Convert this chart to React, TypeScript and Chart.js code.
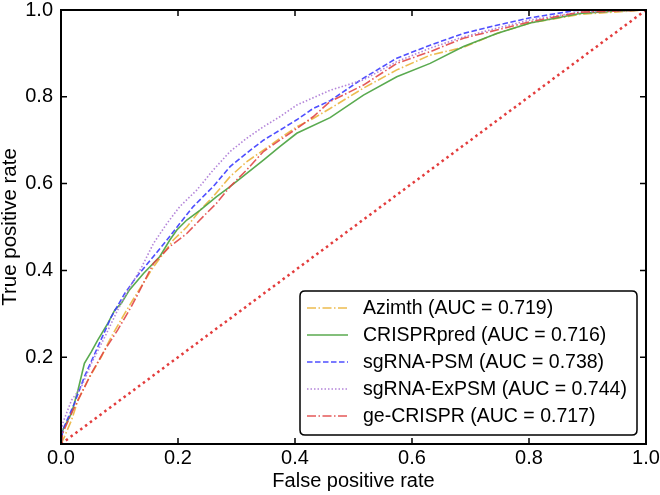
import React, { useEffect, useRef } from 'react';
import { Chart, registerables } from 'chart.js';

Chart.register(...registerables);

const FONT = "'Liberation Sans', Arial, sans-serif";

const xTickLabels = ['0.0', '0.2', '0.4', '0.6', '0.8', '1.0'];
const yTickLabels = ['', '0.2', '0.4', '0.6', '0.8', '1.0'];
const xAxisTitle = 'False positive rate';
const yAxisTitle = 'True positive rate';

const seriesNames = ['Azimth', 'CRISPRpred', 'sgRNA-PSM', 'sgRNA-ExPSM', 'ge-CRISPR'];
const aucValues = ['0.719', '0.716', '0.738', '0.744', '0.717'];

const azimthFpr = [0, 0.006, 0.018, 0.029, 0.046, 0.069, 0.086, 0.109, 0.126, 0.158, 0.192, 0.215, 0.238, 0.26, 0.289, 0.317, 0.346, 0.374, 0.403, 0.431, 0.46, 0.517, 0.574, 0.631, 0.688, 0.745, 0.802, 0.887, 1];
const azimthTpr = [0, 0.017, 0.055, 0.101, 0.147, 0.201, 0.247, 0.301, 0.339, 0.408, 0.47, 0.5, 0.539, 0.57, 0.616, 0.65, 0.677, 0.704, 0.731, 0.75, 0.773, 0.82, 0.862, 0.896, 0.914, 0.946, 0.97, 0.99, 1];

const crisprpredFpr = [0, 0.003, 0.018, 0.029, 0.04, 0.052, 0.063, 0.08, 0.092, 0.103, 0.117, 0.141, 0.169, 0.186, 0.198, 0.215, 0.238, 0.266, 0.289, 0.346, 0.374, 0.403, 0.46, 0.517, 0.574, 0.631, 0.688, 0.745, 0.802, 0.887, 0.95, 1];
const crisprpredTpr = [0, 0.032, 0.071, 0.124, 0.186, 0.213, 0.24, 0.278, 0.309, 0.324, 0.355, 0.393, 0.432, 0.47, 0.493, 0.516, 0.539, 0.57, 0.593, 0.654, 0.685, 0.716, 0.752, 0.804, 0.846, 0.877, 0.916, 0.946, 0.97, 0.992, 0.998, 1];

const psmFpr = [0, 0.003, 0.023, 0.04, 0.063, 0.086, 0.109, 0.129, 0.158, 0.181, 0.203, 0.226, 0.26, 0.289, 0.317, 0.346, 0.374, 0.403, 0.431, 0.46, 0.517, 0.574, 0.631, 0.688, 0.745, 0.802, 0.88, 1];
const psmTpr = [0, 0.032, 0.094, 0.155, 0.224, 0.293, 0.347, 0.385, 0.432, 0.47, 0.508, 0.547, 0.593, 0.639, 0.67, 0.7, 0.723, 0.747, 0.773, 0.791, 0.843, 0.889, 0.919, 0.946, 0.965, 0.982, 0.999, 1];

const expsmFpr = [0, 0.003, 0.018, 0.035, 0.052, 0.075, 0.097, 0.115, 0.138, 0.158, 0.181, 0.203, 0.232, 0.26, 0.289, 0.317, 0.346, 0.374, 0.403, 0.46, 0.517, 0.574, 0.631, 0.688, 0.745, 0.802, 0.887, 1];
const expsmTpr = [0, 0.048, 0.101, 0.132, 0.186, 0.247, 0.309, 0.355, 0.408, 0.462, 0.508, 0.547, 0.585, 0.631, 0.674, 0.704, 0.731, 0.754, 0.781, 0.815, 0.839, 0.881, 0.912, 0.938, 0.958, 0.977, 0.995, 1];

const geFpr = [0, 0.003, 0.018, 0.035, 0.052, 0.075, 0.097, 0.12, 0.129, 0.158, 0.186, 0.215, 0.243, 0.266, 0.289, 0.317, 0.346, 0.374, 0.403, 0.431, 0.46, 0.517, 0.574, 0.631, 0.688, 0.745, 0.802, 0.887, 1];
const geTpr = [0, 0.025, 0.071, 0.117, 0.163, 0.217, 0.263, 0.316, 0.339, 0.416, 0.455, 0.485, 0.524, 0.555, 0.593, 0.631, 0.674, 0.7, 0.727, 0.754, 0.789, 0.827, 0.877, 0.904, 0.935, 0.954, 0.973, 0.995, 1];

const chanceFpr = [0, 1];
const chanceTpr = [0, 1];

const seriesFpr = [azimthFpr, crisprpredFpr, psmFpr, expsmFpr, geFpr];
const seriesTpr = [azimthTpr, crisprpredTpr, psmTpr, expsmTpr, geTpr];
const seriesColors = ['rgba(235,180,60,0.9)', 'rgba(80,165,70,0.95)', 'rgba(60,60,255,0.9)', 'rgba(175,125,215,0.95)', 'rgba(225,70,70,0.9)'];
const seriesDash = [[9, 2.5, 1.5, 2.5], [], [5.5, 2.5], [1.5, 2], [9, 2.5, 1.5, 2.5]];

const toPoints = (xs: number[], ys: number[]) => xs.map((x, i) => ({ x, y: ys[i] }));

const framePlugin = {
  id: 'frameAndLegend',
  afterDatasetsDraw(chart: any) {
    const { ctx, chartArea } = chart;
    const xs = chart.scales.x;
    const ys = chart.scales.y;
    ctx.save();
    ctx.strokeStyle = '#000';
    ctx.lineWidth = 1.5;
    const tl = 6;
    xs.ticks.forEach((t: any) => {
      const px = xs.getPixelForValue(t.value);
      ctx.beginPath();
      ctx.moveTo(px, chartArea.bottom);
      ctx.lineTo(px, chartArea.bottom - tl);
      ctx.moveTo(px, chartArea.top);
      ctx.lineTo(px, chartArea.top + tl);
      ctx.stroke();
    });
    ys.ticks.forEach((t: any) => {
      const py = ys.getPixelForValue(t.value);
      ctx.beginPath();
      ctx.moveTo(chartArea.left, py);
      ctx.lineTo(chartArea.left + tl, py);
      ctx.moveTo(chartArea.right, py);
      ctx.lineTo(chartArea.right - tl, py);
      ctx.stroke();
    });
    ctx.lineWidth = 2;
    ctx.strokeRect(chartArea.left, chartArea.top, chartArea.right - chartArea.left, chartArea.bottom - chartArea.top);

    // legend
    const bw = 337;
    const bh = 144;
    const bx = chartArea.right - 9 - bw;
    const by = chartArea.bottom - 9 - bh;
    const r = 5;
    ctx.beginPath();
    ctx.moveTo(bx + r, by);
    ctx.lineTo(bx + bw - r, by);
    ctx.quadraticCurveTo(bx + bw, by, bx + bw, by + r);
    ctx.lineTo(bx + bw, by + bh - r);
    ctx.quadraticCurveTo(bx + bw, by + bh, bx + bw - r, by + bh);
    ctx.lineTo(bx + r, by + bh);
    ctx.quadraticCurveTo(bx, by + bh, bx, by + bh - r);
    ctx.lineTo(bx, by + r);
    ctx.quadraticCurveTo(bx, by, bx + r, by);
    ctx.closePath();
    ctx.fillStyle = '#fff';
    ctx.fill();
    ctx.lineWidth = 1.5;
    ctx.strokeStyle = '#000';
    ctx.stroke();

    ctx.font = `19.5px ${FONT}`;
    ctx.textBaseline = 'middle';
    ctx.textAlign = 'left';
    seriesNames.forEach((name, i) => {
      const cy = by + 17 + i * 27;
      ctx.beginPath();
      ctx.setLineDash(seriesDash[i]);
      ctx.strokeStyle = seriesColors[i];
      ctx.lineWidth = 1.5;
      ctx.moveTo(bx + 7, cy);
      ctx.lineTo(bx + 48, cy);
      ctx.stroke();
      ctx.setLineDash([]);
      ctx.fillStyle = '#000';
      ctx.fillText(`${name} (AUC = ${aucValues[i]})`, bx + 63, cy + 1);
    });
    ctx.restore();
  },
};

export default function App() {
  const canvasRef = useRef<HTMLCanvasElement | null>(null);

  useEffect(() => {
    if (!canvasRef.current) return;
    const datasets: any[] = seriesNames.map((name, i) => ({
      label: name,
      data: toPoints(seriesFpr[i], seriesTpr[i]),
      borderColor: seriesColors[i],
      borderWidth: 1.6,
      borderDash: seriesDash[i],
      pointRadius: 0,
      fill: false,
      tension: 0,
      order: 5 - i,
    }));
    datasets.push({
      label: 'chance',
      data: toPoints(chanceFpr, chanceTpr),
      borderColor: 'rgba(225,50,50,0.95)',
      borderWidth: 2.5,
      borderDash: [2.5, 3.5],
      pointRadius: 0,
      fill: false,
      order: 0,
    });

    const chart = new Chart(canvasRef.current, {
      type: 'line',
      data: { datasets },
      options: {
        animation: false,
        responsive: false,
        maintainAspectRatio: false,
        layout: { padding: { top: 10, right: 14, left: 0, bottom: 0 } },
        plugins: { legend: { display: false }, tooltip: { enabled: false } },
        scales: {
          x: {
            type: 'linear',
            min: 0,
            max: 1,
            grid: { display: false, drawTicks: false, tickLength: 0 },
            border: { display: false },
            ticks: {
              stepSize: 0.2,
              autoSkip: false,
              maxRotation: 0,
              padding: 2,
              color: '#000',
              font: { family: FONT, size: 20, lineHeight: 1.2 },
              callback: (_v: any, i: number) => xTickLabels[i],
            },
            title: {
              display: true,
              text: xAxisTitle,
              color: '#000',
              font: { family: FONT, size: 20, lineHeight: 1.1 },
              padding: { top: 0, bottom: 3 },
            },
            afterFit: (s: any) => {
              s.height = 51;
              s.paddingLeft = 0;
              s.paddingRight = 0;
            },
          },
          y: {
            type: 'linear',
            min: 0,
            max: 1,
            grid: { display: false, drawTicks: false, tickLength: 0 },
            border: { display: false },
            ticks: {
              stepSize: 0.2,
              autoSkip: false,
              padding: 8,
              color: '#000',
              font: { family: FONT, size: 20, lineHeight: 1.2 },
              callback: (_v: any, i: number) => yTickLabels[i],
            },
            title: {
              display: true,
              text: yAxisTitle,
              color: '#000',
              font: { family: FONT, size: 20.5, lineHeight: 1.05 },
              padding: { top: 0, bottom: 0 },
            },
            afterFit: (s: any) => {
              s.width = 61;
              s.paddingTop = 0;
              s.paddingBottom = 0;
            },
          },
        },
      },
      plugins: [framePlugin],
    });
    return () => chart.destroy();
  }, []);

  return (
    <div style={{ position: 'fixed', left: 0, top: 0, width: 660, height: 495, background: '#fff' }}>
      <canvas ref={canvasRef} width={660} height={495} style={{ width: 660, height: 495 }} />
    </div>
  );
}
